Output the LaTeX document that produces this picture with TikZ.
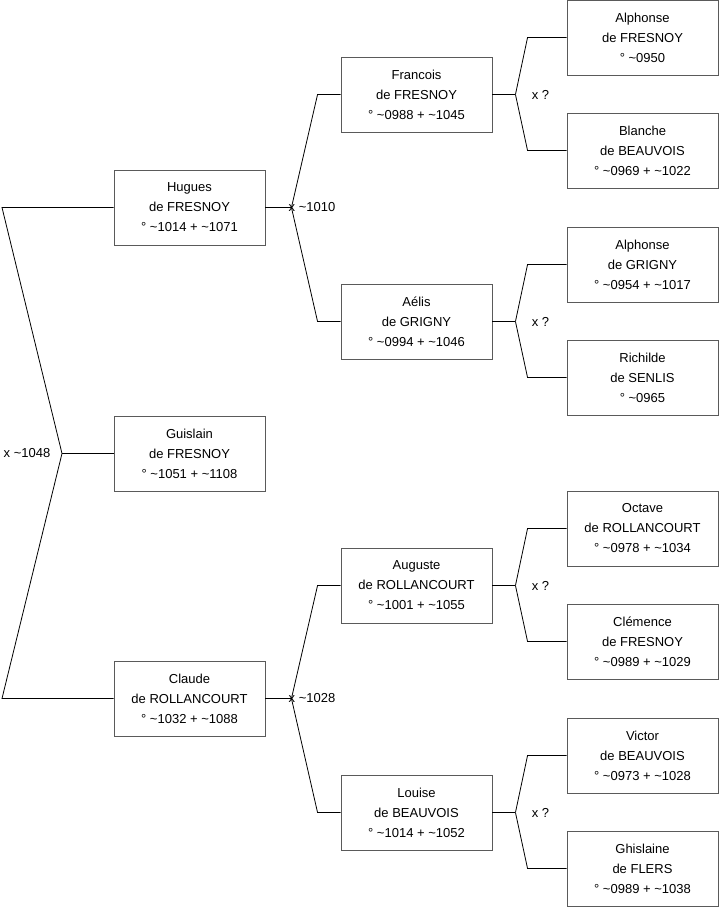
\documentclass[tikz,border=0pt]{standalone}
\usepackage{fontspec}
\setmainfont{Liberation Sans}
\usepackage{tikz}
\usetikzlibrary{positioning,calc}
\definecolor{BoxGray}{RGB}{90,90,90}
\newcommand{\appr}{\textasciitilde}
\tikzset{
	person/.style={draw=BoxGray,fill=white,line width=0.9pt,minimum width=151pt,minimum height=75pt,
		inner sep=0pt,align=center,font=\fontsize{13}{20}\selectfont},
	link/.style={draw=black,line width=0.8pt},
	union/.style={font=\fontsize{13}{15}\selectfont,inner sep=0pt},
}

\begin{document}
\begin{tikzpicture}[x=1pt,y=-1pt]
	\useasboundingbox (0,0) rectangle (719,908);
	% generation 1 and 2
	\node[person] (guislain) at (189.5,453.5) {Guislain\\de FRESNOY\\° \appr1051 + \appr1108};
	\node[person] (hugues) at (189.5,207.5) {Hugues\\de FRESNOY\\° \appr1014 + \appr1071};
	\node[person] (claude) at (189.5,698.5) {Claude\\de ROLLANCOURT\\° \appr1032 + \appr1088};
	% generation 3
	\node[person] (francois) at (416.5,94.5) {Francois\\de FRESNOY\\° \appr0988 + \appr1045};
	\node[person] (aelis) at (416.5,321.5) {Aélis\\de GRIGNY\\° \appr0994 + \appr1046};
	\node[person] (auguste) at (416.5,585.5) {Auguste\\de ROLLANCOURT\\° \appr1001 + \appr1055};
	\node[person] (louise) at (416.5,812.5) {Louise\\de BEAUVOIS\\° \appr1014 + \appr1052};
	% generation 4
	\node[person] (alphF) at (642.5,37.5) {Alphonse\\de FRESNOY\\° \appr0950};
	\node[person] (blanche) at (642.5,150.5) {Blanche\\de BEAUVOIS\\° \appr0969 + \appr1022};
	\node[person] (alphG) at (642.5,264.5) {Alphonse\\de GRIGNY\\° \appr0954 + \appr1017};
	\node[person] (richilde) at (642.5,377.5) {Richilde\\de SENLIS\\° \appr0965};
	\node[person] (octave) at (642.5,528.5) {Octave\\de ROLLANCOURT\\° \appr0978 + \appr1034};
	\node[person] (clemence) at (642.5,641.5) {Clémence\\de FRESNOY\\° \appr0989 + \appr1029};
	\node[person] (victor) at (642.5,755.5) {Victor\\de BEAUVOIS\\° \appr0973 + \appr1028};
	\node[person] (ghislaine) at (642.5,868.5) {Ghislaine\\de FLERS\\° \appr0989 + \appr1038};
	% parents of Guislain
	\coordinate (top) at (2,207.5);
	\coordinate (mid) at (62,453.5);
	\coordinate (bot) at (2,698.5);
	\draw[link] (hugues.west) -- (top) -- (mid) -- (bot) -- (claude.west);
	\draw[link] (mid) -- (guislain.west);
	\node[union] (u1048) at (27,453.5) {x \appr1048};
	% parents of Hugues and Claude
	\foreach \p/\a/\b/\d in {hugues/francois/aelis/1010,claude/auguste/louise/1028}{
		\draw[link] (\p.east) -- ++(26,0) coordinate (\p-j);
		\draw[link] (\a.west) -- ++(-23,0) -- (\p-j);
		\draw[link] (\b.west) -- ++(-23,0) -- (\p-j);
		\node[union,anchor=west] (u\d) at ([xshift=-3pt]\p-j) {x \appr\d};
	}
	% grandparents
	\foreach \p/\a/\b in {francois/alphF/blanche,aelis/alphG/richilde,auguste/octave/clemence,louise/victor/ghislaine}{
		\draw[link] (\p.east) -- ++(23,0) coordinate (\p-j);
		\draw[link] (\a.west) -- ++(-39,0) -- (\p-j);
		\draw[link] (\b.west) -- ++(-39,0) -- (\p-j);
		\node[union] (u\p) at ([xshift=25pt]\p-j) {x ?};
	}
\end{tikzpicture}
\end{document}
